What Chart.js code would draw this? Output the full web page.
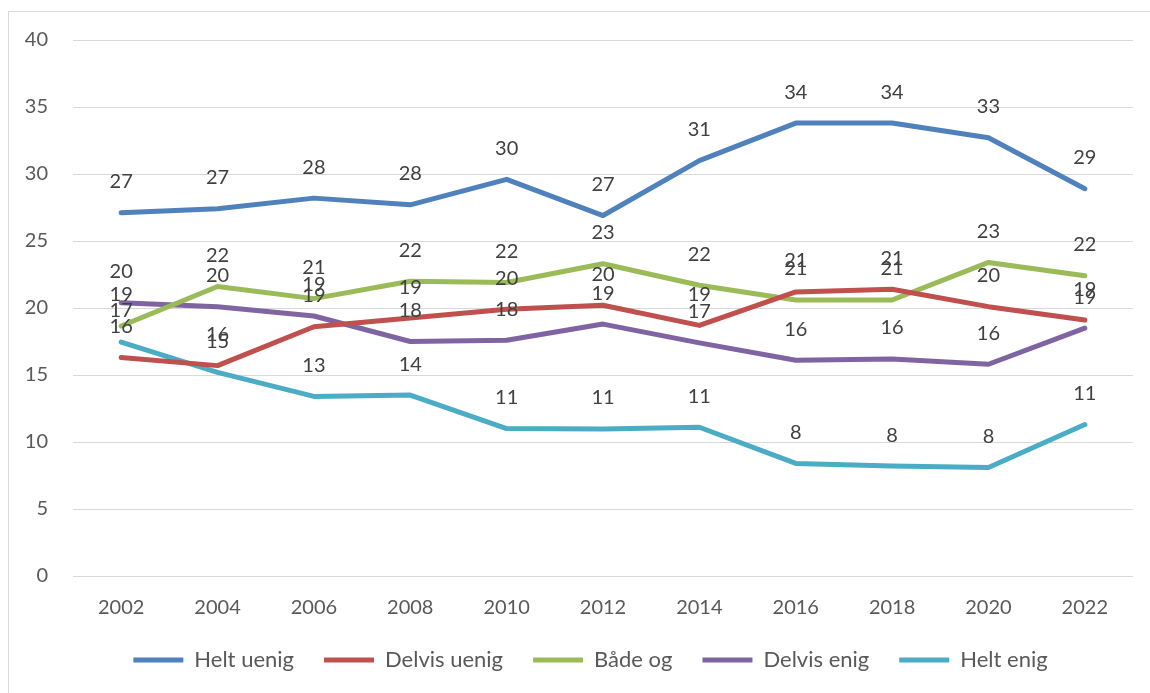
<!DOCTYPE html>
<html>
<head>
<meta charset="utf-8">
<script src="https://cdn.jsdelivr.net/npm/chart.js@4"></script>
<style>
  html, body { margin: 0; padding: 0; background: #fff; overflow: hidden; }
  #frame { position: absolute; left: 8px; top: 11px; width: 1300px; height: 800px; border-left: 1px solid #d9d9d9; border-top: 1px solid #d9d9d9; box-sizing: border-box; }
  #wrap { position: absolute; left: 0; top: 0; width: 1150px; height: 693px; }
</style>
</head>
<body>
<div id="frame"></div>
<div id="wrap"><canvas id="c" width="1150" height="693"></canvas></div>
<script>
const years = ['2002','2004','2006','2008','2010','2012','2014','2016','2018','2020','2022'];
const seriesNames = ['Helt uenig','Delvis uenig','Både og','Delvis enig','Helt enig'];
const heltUenig   = [27.1, 27.4, 28.2, 27.7, 29.6, 26.9, 31.0, 33.8, 33.8, 32.7, 28.9];
const delvisUenig = [16.3, 15.7, 18.6, 19.25, 19.9, 20.2, 18.7, 21.2, 21.4, 20.1, 19.1];
const baadeOg     = [18.66, 21.6, 20.7, 22.0, 21.9, 23.3, 21.7, 20.6, 20.6, 23.4, 22.4];
const delvisEnig  = [20.4, 20.1, 19.4, 17.5, 17.6, 18.8, 17.4, 16.1, 16.2, 15.8, 18.5];
const heltEnig    = [17.46, 15.2, 13.4, 13.5, 11.0, 10.97, 11.1, 8.4, 8.2, 8.1, 11.3];
const yTicks = [0, 5, 10, 15, 20, 25, 30, 35, 40];

const colors = ['#4F81BD', '#C0504D', '#9BBB59', '#8064A2', '#4BACC6'];
const allData = [heltUenig, delvisUenig, baadeOg, delvisEnig, heltEnig];

const FONT = 'Lato, "Open Sans", sans-serif';

const labelPlugin = {
  id: 'pointLabels',
  afterLayout(chart) {
    // let x tick labels overflow their box instead of being clipped
    if (chart.scales.x) chart.scales.x._computeLabelArea = () => undefined;
    // center the legend as in the reference (frame wider than viewport)
    if (chart.legend) { chart.legend.left += 24; chart.legend.right += 24; }
  },
  afterDatasetsDraw(chart) {
    const ctx = chart.ctx;
    ctx.save();
    ctx.font = '20px ' + FONT;
    ctx.fillStyle = '#404040';
    ctx.textAlign = 'center';
    ctx.textBaseline = 'middle';
    chart.data.datasets.forEach((ds, i) => {
      const meta = chart.getDatasetMeta(i);
      meta.data.forEach((pt, j) => {
        ctx.fillText(String(Math.round(ds.data[j])), pt.x, pt.y - 31);
      });
    });
    ctx.restore();
  }
};

new Chart(document.getElementById('c'), {
  type: 'line',
  data: {
    labels: years,
    datasets: seriesNames.map((n, i) => ({
      label: n,
      data: allData[i],
      borderColor: colors[i],
      backgroundColor: colors[i],
      borderWidth: 5,
      borderCapStyle: 'round',
      borderJoinStyle: 'round',
      pointRadius: 0,
      pointHoverRadius: 0,
      tension: 0,
      fill: false
    }))
  },
  options: {
    responsive: false,
    animation: false,
    devicePixelRatio: 1,
    layout: { padding: { left: 0, right: 17, top: 40, bottom: 12 } },
    plugins: {
      tooltip: { enabled: false },
      legend: {
        position: 'bottom',
        labels: {
          usePointStyle: true,
          pointStyle: 'line',
          pointStyleWidth: 50,
          boxHeight: 22,
          padding: 30,
          color: '#595959',
          font: { family: FONT, size: 22 }
        }
      }
    },
    scales: {
      x: {
        offset: true,
        grid: { display: false },
        border: { display: false },
        ticks: { color: '#595959', font: { family: FONT, size: 20 }, padding: 12, maxRotation: 0 },
        afterFit(s) { s.height = 43; }
      },
      y: {
        min: 0, max: 40,
        afterBuildTicks(s) { s.ticks = yTicks.map(v => ({ value: v })); },
        grid: { color: '#d9d9d9', lineWidth: 1, drawTicks: false },
        border: { display: false },
        ticks: { color: '#595959', font: { family: FONT, size: 20 }, padding: 25 },
        afterFit(s) { s.width = 73; }
      }
    }
  },
  plugins: [labelPlugin]
});
</script>
</body>
</html>
